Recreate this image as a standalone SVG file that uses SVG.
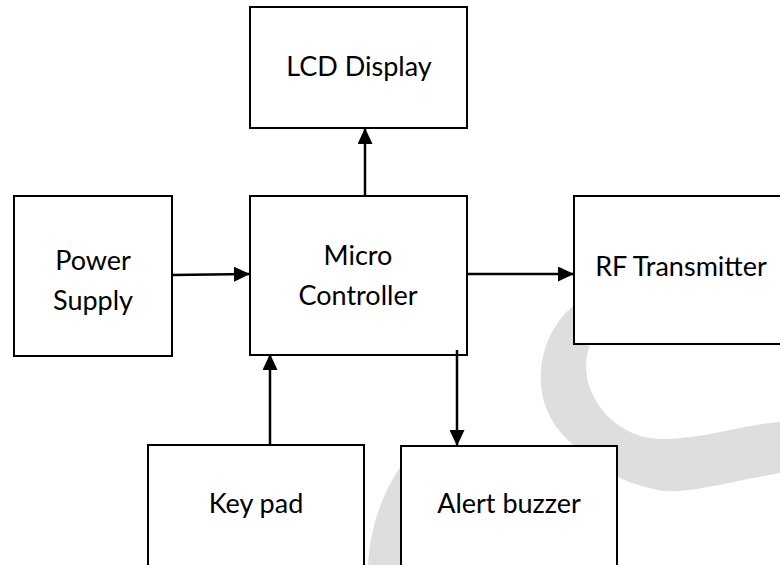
<svg xmlns="http://www.w3.org/2000/svg" width="780" height="565" viewBox="0 0 780 565">
  <style>
    .box { fill: #ffffff; stroke: #000000; stroke-width: 2; }
    .lbl { font-family: "Lato", "Liberation Sans", sans-serif; font-size: 27px; fill: #000000; text-anchor: middle; }
    .wire { stroke: #000000; stroke-width: 2.5; fill: none; marker-end: url(#head); }
    .mark { fill: #dedede; stroke: none; }
  </style>
  <defs>
    <marker id="head" markerUnits="userSpaceOnUse" markerWidth="16" markerHeight="15" refX="16" refY="7.5" orient="auto">
      <path d="M0,0 L16,7.5 L0,15 Z" fill="#000000"/>
    </marker>
  </defs>
  <rect width="780" height="565" fill="#ffffff"/>

  <!-- background swoosh -->
  <g id="backdrop">
    <path class="mark" d="M600 292 C575 298 545 325 541 370 C538 405 555 432 580 450 C600 470 625 484 663 491 C690 493 720 484 780 473 L790 472 L790 422 L780 422 C740 425 700 440 660 439 C630 438 605 420 593 395 C583 375 585 355 592 340 L600 330 Z"/>
    <path class="mark" d="M368 565 C370 530 380 495 405 460 L450 460 L450 565 Z"/>
  </g>

  <g id="lcd">
    <rect class="box" x="250" y="7" width="217" height="121"/>
    <text class="lbl" x="359" y="76">LCD Display</text>
  </g>
  <g id="power">
    <rect class="box" x="14" y="196" width="158" height="160"/>
    <text class="lbl" x="93" y="270">Power</text>
    <text class="lbl" x="93" y="310">Supply</text>
  </g>
  <g id="micro">
    <rect class="box" x="250" y="196" width="217" height="159"/>
    <text class="lbl" x="358" y="265">Micro</text>
    <text class="lbl" x="358" y="305">Controller</text>
  </g>
  <g id="rf">
    <rect class="box" x="574" y="196" width="220" height="148"/>
    <text class="lbl" x="681" y="276">RF Transmitter</text>
  </g>
  <g id="keypad">
    <rect class="box" x="148" y="445" width="216" height="140"/>
    <text class="lbl" x="256" y="513">Key pad</text>
  </g>
  <g id="buzzer">
    <rect class="box" x="401" y="446" width="216" height="140"/>
    <text class="lbl" x="509" y="513">Alert buzzer</text>
  </g>

  <g id="connectors">
    <path class="wire" d="M172 275 L250 274"/>
    <path class="wire" d="M365 196 L365 128"/>
    <path class="wire" d="M467 274 L574 274"/>
    <path class="wire" d="M270 445 L270 354"/>
    <path class="wire" d="M457 350 L457 446"/>
  </g>
</svg>
